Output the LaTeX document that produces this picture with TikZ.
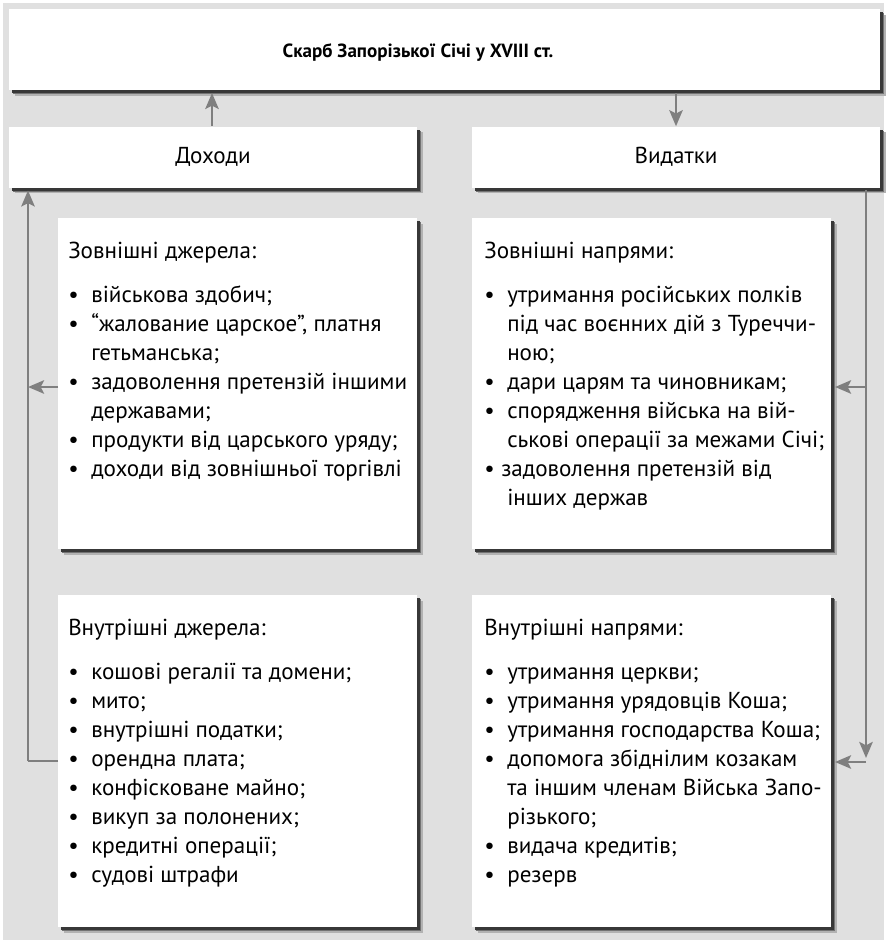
\documentclass[tikz,border=0pt]{standalone}
\usepackage{fontspec}
\setmainfont{PT Sans}
\usetikzlibrary{arrows.meta,shadows}
\definecolor{bggray}{HTML}{E0E0E0}
\definecolor{arrgray}{HTML}{7F7F7F}
\newcommand{\bul}{\makebox[17.25pt][l]{•}}
\newcommand{\bulnarrow}{\makebox[12.75pt][l]{•}}
\newcommand{\hd}[1]{\multicolumn{2}{@{}l@{}}{#1}}
\begin{document}
\begin{tikzpicture}[x=0.75pt,y=-0.75pt,
  bodyfont/.style={font=\fontsize{17.3}{21.75}\selectfont},
  box/.style={rectangle, fill=white, inner sep=0pt, bodyfont,
    general shadow={fill=black!30, shadow xshift=4.2pt, shadow yshift=-4.2pt},
    general shadow={fill=black!55, shadow xshift=3.3pt, shadow yshift=-3.3pt},
    general shadow={fill=black!78, shadow xshift=2.3pt, shadow yshift=-2.3pt}},
  txt/.style={anchor=base west, inner sep=0pt, bodyfont},
  conn/.style={draw=arrgray, line width=2.1pt,
    -{Stealth[length=12pt,width=10pt,inset=2.5pt]}},
  plain/.style={draw=arrgray, line width=2.1pt}]
\useasboundingbox (0,0) rectangle (886,942);
\fill[bggray] (3,3) rectangle (884,940);

% boxes
\node[box, minimum width=653.25pt, minimum height=60.75pt] (top) at (444.5,49.5) {};
\node[inner sep=0pt, anchor=base, font=\fontsize{14.3}{18}\selectfont\bfseries]
  (title) at (418,58) {Скарб Запорізької Січі у XVIII ст.};
\node[box, minimum width=306pt, minimum height=45.75pt] (dox) at (213,157)
  {Доходи};
\node[box, minimum width=306pt, minimum height=45.75pt] (vyd) at (676,157)
  {Видатки};
\node[box, minimum width=269.25pt, minimum height=248.25pt] (lu) at (237.5,383.5) {};
\node[box, minimum width=269.25pt, minimum height=248.25pt] (ru) at (651.5,383.5) {};
\node[box, minimum width=269.25pt, minimum height=249pt] (ll) at (237.5,761) {};
\node[box, minimum width=269.25pt, minimum height=249pt] (rl) at (651.5,761) {};

% texts
\node[txt] (lut) at (68,258) {\begin{tabular}[t]{@{}l@{}l@{}}
\hd{Зовнішні джерела:}\\[11.25pt]
\bul & військова здобич;\\
\bul & “жалование царское”, платня\\
     & гетьманська;\\
\bul & задоволення претензій іншими\\
     & державами;\\
\bul & продукти від царського уряду;\\
\bul & доходи від зовнішньої торгівлі
\end{tabular}};

\node[txt] (rut) at (484,258) {\begin{tabular}[t]{@{}l@{}l@{}}
\hd{Зовнішні напрями:}\\[11.25pt]
\bul & утримання російських полків\\
     & під час воєнних дій з Туреччи-\\
     & ною;\\
\bul & дари царям та чиновникам;\\
\bul & спорядження війська на вій-\\
     & ськові операції за межами Січі;\\
\hd{\bulnarrow задоволення претензій від}\\
     & інших держав
\end{tabular}};

\node[txt] (llt) at (68,635) {\begin{tabular}[t]{@{}l@{}l@{}}
\hd{Внутрішні джерела:}\\[11.25pt]
\bul & кошові регалії та домени;\\
\bul & мито;\\
\bul & внутрішні податки;\\
\bul & орендна плата;\\
\bul & конфісковане майно;\\
\bul & викуп за полонених;\\
\bul & кредитні операції;\\
\bul & судові штрафи
\end{tabular}};

\node[txt] (rlt) at (484,635) {\begin{tabular}[t]{@{}l@{}l@{}}
\hd{Внутрішні напрями:}\\[11.25pt]
\bul & утримання церкви;\\
\bul & утримання урядовців Коша;\\
\bul & утримання господарства Коша;\\
\bul & допомога збіднілим козакам\\
     & та іншим членам Війська Запо-\\
     & різького;\\
\bul & видача кредитів;\\
\bul & резерв
\end{tabular}};

% connector rails
\coordinate (lx) at (28,0);
\coordinate (rx) at (866,0);
\coordinate (lua) at (58,387);
\coordinate (lla) at (58,761);
\coordinate (rua) at (835,387);
\coordinate (rla) at (835,762);

% connectors
\draw[conn] (dox.north -| 212,0) -- ([yshift=-2pt]212,0 |- top.south);
\draw[conn] ([yshift=-2pt]vyd.north |- top.south) -- (vyd.north);
\draw[conn] (lua) -- (lua -| lx);
\draw[plain] (lla) -- (lla -| lx);
\draw[conn] (lla -| lx) -- ([yshift=-2pt]lx |- dox.south);
\draw[conn] ([yshift=-2pt]rx |- vyd.south) -- ([yshift=3pt]rx |- rla);
\draw[conn] (rua -| rx) -- (rua);
\draw[conn] (rla -| rx) -- (rla);
\end{tikzpicture}
\end{document}
